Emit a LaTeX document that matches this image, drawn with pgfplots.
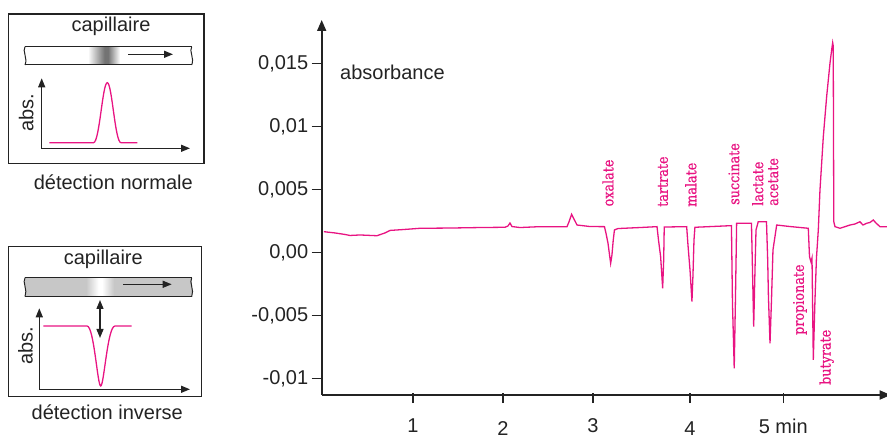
\documentclass[border=0pt]{standalone}
\usepackage{fontspec}
\setmainfont{Liberation Sans}
\newfontfamily\labfont[FakeStretch=0.88, FakeBold=0.8]{DejaVu Serif}
\usepackage{pgfplots}
\pgfplotsset{compat=1.18}
\usetikzlibrary{arrows.meta}
\definecolor{mag}{RGB}{232,20,130}
\definecolor{ax}{RGB}{35,35,35}
\newcommand\bigtxt{\fontsize{20bp}{24bp}\selectfont}
\newcommand\labtxt{\labfont\fontsize{14.5bp}{16bp}\selectfont}

\pgfplotstableread{
t y
0.059 0.00165
0.178 0.00155
0.286 0.00143
0.340 0.00135
0.448 0.00139
0.631 0.00133
0.717 0.00155
0.771 0.00175
0.933 0.00183
1.095 0.00192
1.419 0.00194
1.742 0.00198
2.012 0.00200
2.044 0.00210
2.066 0.00234
2.087 0.00206
2.174 0.00198
2.389 0.00205
2.681 0.00205
2.702 0.00242
2.731 0.00303
2.756 0.00266
2.789 0.00218
2.929 0.00206
3.085 0.00205
3.101 0.00155
3.123 0.00075
3.152 -0.00086
3.166 -0.00020
3.180 0.00099
3.193 0.00179
3.231 0.00190
3.468 0.00198
3.652 0.00205
3.668 0.00099
3.691 -0.00033
3.713 -0.00284
3.724 -0.00060
3.730 0.00202
3.972 0.00205
3.986 0.00060
4.008 -0.00139
4.029 -0.00390
4.040 -0.00179
4.051 0.00099
4.061 0.00200
4.455 0.00213
4.466 -0.00403
4.485 -0.00919
4.498 -0.00377
4.511 0.00232
4.671 0.00232
4.682 -0.00139
4.695 -0.00589
4.709 -0.00139
4.720 0.00179
4.744 0.00244
4.833 0.00244
4.846 -0.00060
4.854 -0.00351
4.871 -0.00721
4.887 -0.00377
4.903 0.00020
4.943 0.00218
5.086 0.00206
5.284 0.00192
5.297 -0.00033
5.313 -0.00075
5.324 -0.00044
5.338 -0.00853
5.356 -0.00377
5.372 -0.00044
5.392 0.00179
5.410 0.00496
5.446 0.00919
5.482 0.01237
5.518 0.01502
5.536 0.01607
5.547 0.01665
5.553 0.01639
5.559 0.00244
5.572 0.00205
5.626 0.00192
5.734 0.00218
5.787 0.00226
5.841 0.00244
5.874 0.00218
5.914 0.00232
5.949 0.00238
5.985 0.00258
6.014 0.00234
6.057 0.00205
6.133 0.00205
}\trace

\begin{document}
\begin{tikzpicture}
\useasboundingbox (0,0) rectangle (887bp,436bp);
\begin{axis}[
  at={(321.7bp,41bp)}, anchor=south west,
  scale only axis, width=569bp, height=375bp,
  xmin=0.035, xmax=6.173, ymin=-0.01131, ymax=0.01845,
  axis x line=bottom, axis y line=left,
  axis line style={line width=1.8bp, color=ax, -{Triangle[length=11bp,width=9bp]}},
  scaled y ticks=false,
  xtick={1.019,1.990,2.962,4.008,5.014},
  xticklabels={1,\raisebox{-3bp}[\height][\depth]{2},3,\raisebox{-3bp}[\height][\depth]{4},5 min},
  ytick={0.015,0.01,0.005,0,-0.005,-0.01},
  yticklabels={{0,015},{0,01},{0,005},{0,00},{-0,005},{-0,01}},
  xtick align=center, ytick align=outside,
  major tick length=10bp,
  xtick style={line width=1.3bp, color=ax, yshift=-3bp},
  ytick style={line width=1.3bp, color=ax},
  tick label style={font=\bigtxt, text=ax},
  xticklabel style={yshift=-15bp},
  yticklabel style={xshift=0bp},
  clip=false,
]
\addplot[mag, line width=1.3bp] table[x=t,y=y] {\trace};
\node[mag, rotate=90, anchor=west, inner sep=0, font=\labtxt] at (axis cs:3.123,0.00364) {oxalate};
\node[mag, rotate=90, anchor=west, inner sep=0, font=\labtxt] at (axis cs:3.716,0.00361) {tartrate};
\node[mag, rotate=90, anchor=west, inner sep=0, font=\labtxt] at (axis cs:4.017,0.00361) {malate};
\node[mag, rotate=90, anchor=west, inner sep=0, font=\labtxt] at (axis cs:4.482,0.00377) {succinate};
\node[mag, rotate=90, anchor=west, inner sep=0, font=\labtxt] at (axis cs:4.738,0.00369) {lactate};
\node[mag, rotate=90, anchor=west, inner sep=0, font=\labtxt] at (axis cs:4.906,0.00369) {acetate};
\node[mag, rotate=90, anchor=west, inner sep=0, font=\labtxt] at (axis cs:5.194,-0.00655) {propionate};
\node[mag, rotate=90, anchor=west, inner sep=0, font=\labtxt] at (axis cs:5.482,-0.01052) {butyrate};
\end{axis}

\begin{scope}[x=1bp, y=-1bp, shift={(0bp,436bp)}, line cap=butt]
  \node[anchor=base west, inner sep=0, font=\bigtxt, text=ax] at (340,80) {absorbance};
  % inset 1
  \draw[line width=1.3bp, ax] (8.3,14) rectangle (204,163.3);
  \node[anchor=base, inner sep=0, font=\bigtxt, text=ax] at (111,31.7) {capillaire};
  \shade[left color=white, right color=black!55] (88,46.7) rectangle (104.5,65);
  \fill[black!55] (104.5,46.7) rectangle (108,65);
  \shade[left color=black!55, right color=white] (108,46.7) rectangle (120,65);
  \draw[line width=1bp, ax] (25,46.7) -- (191.7,46.7) (25,65) -- (191.7,65);
  \draw[line width=1bp, ax] (25,46.7) .. controls (22,51) and (28,58) .. (25,65);
  \draw[line width=1bp, ax] (191.7,46.7) .. controls (188.7,51) and (194.7,58) .. (191.7,65);
  \draw[line width=1.3bp, ax, -{Triangle[length=9bp,width=7bp]}] (128,54.3) -- (173,54.3);
  \draw[line width=1.3bp, ax, {Triangle[length=9bp,width=7bp]}-{Triangle[length=9bp,width=7bp]}, line join=miter] (41.7,78.3) -- (41.7,148.3) -- (190,148.3);
  \draw[mag, line width=1.3bp] (49.3,142.7) -- (93.5,142.7) .. controls (99.5,142.7) and (102.5,82.7) .. (107.3,82.7) .. controls (112,82.7) and (115,142.7) .. (121,142.7) -- (137.3,142.7);
  \node[rotate=90, anchor=base, inner sep=0, font=\bigtxt, text=ax] at (33.3,112.5) {abs.};
  \node[anchor=base, inner sep=0, font=\bigtxt, text=ax] at (113.3,189.3) {détection normale};
  % inset 2
  \draw[line width=1.3bp, ax] (8.3,246.7) rectangle (201.7,396.7);
  \node[anchor=base, inner sep=0, font=\bigtxt, text=ax] at (103.3,265) {capillaire};
  \fill[black!22] (25,277.7) rectangle (191.7,296.7);
  \shade[left color=black!22, right color=white] (86,277.7) rectangle (98.5,296.7);
  \fill[white] (98.5,277.7) rectangle (102,296.7);
  \shade[left color=white, right color=black!22] (102,277.7) rectangle (114,296.7);
  \draw[line width=1bp, ax] (25,277.7) -- (191.7,277.7) (25,296.7) -- (191.7,296.7);
  \draw[line width=1bp, ax] (25,277.7) .. controls (22,282) and (28,290) .. (25,296.7);
  \draw[line width=1bp, ax] (191.7,277.7) .. controls (188.7,282) and (194.7,290) .. (191.7,296.7);
  \draw[line width=1.3bp, ax, -{Triangle[length=9bp,width=7bp]}] (123.3,284.3) -- (171.7,284.3);
  \draw[line width=1.3bp, ax, {Triangle[length=9bp,width=7bp]}-{Triangle[length=9bp,width=7bp]}] (100,300) -- (100,338);
  \draw[line width=1.3bp, ax, {Triangle[length=9bp,width=7bp]}-{Triangle[length=9bp,width=7bp]}, line join=miter] (39.3,308.3) -- (39.3,389.3) -- (190,389.3);
  \draw[mag, line width=1.3bp] (43.3,326) -- (87,326) .. controls (94,326) and (97.5,386) .. (100.7,386) .. controls (104,386) and (107.5,326) .. (115,326) -- (131.7,326);
  \node[rotate=90, anchor=base, inner sep=0, font=\bigtxt, text=ax] at (32.5,346) {abs.};
  \node[anchor=base, inner sep=0, font=\bigtxt, text=ax] at (107.3,419.3) {détection inverse};
\end{scope}
\end{tikzpicture}
\end{document}
